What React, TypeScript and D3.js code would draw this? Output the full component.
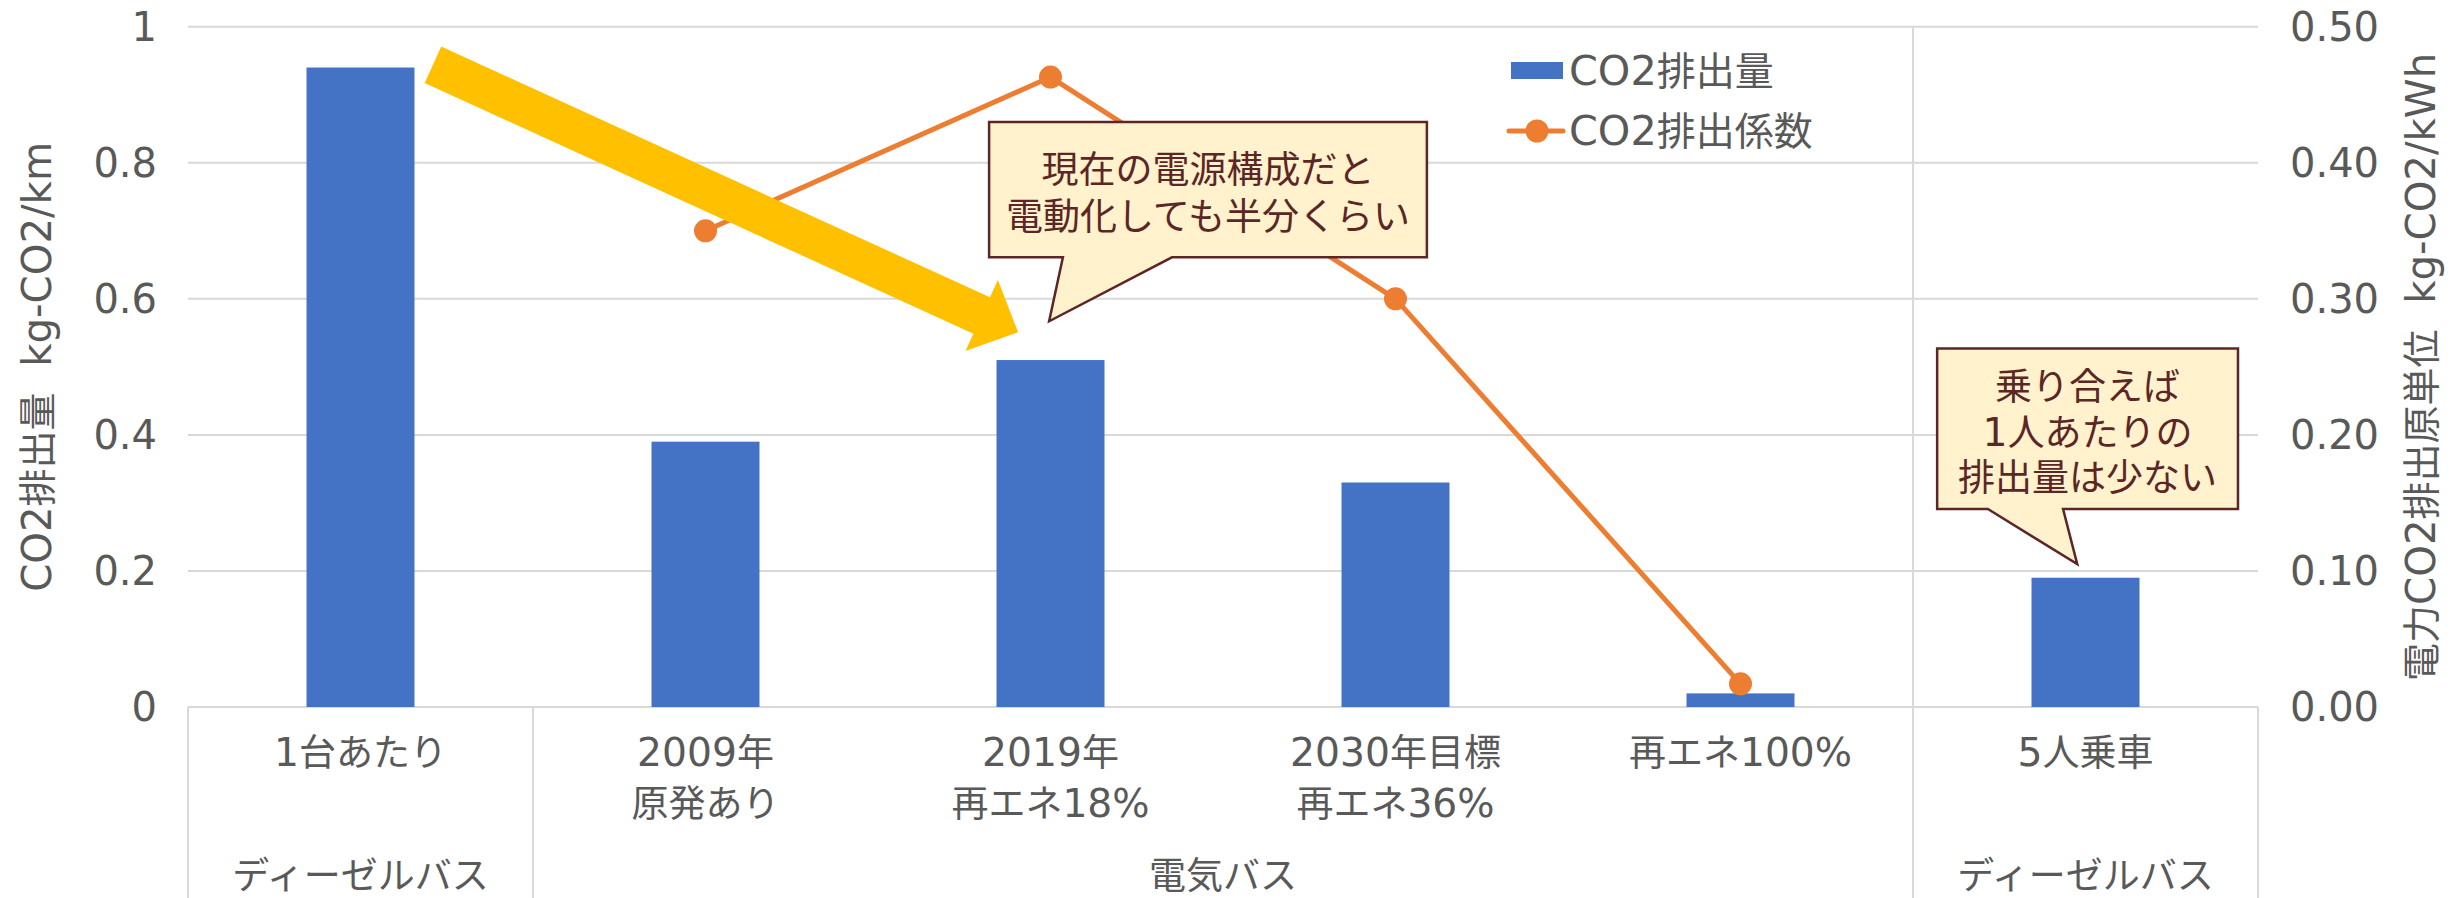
import * as d3 from "d3";

// categories (two-line labels) and groups
const catTop = ["1台あたり", "2009年", "2019年", "2030年目標", "再エネ100%", "5人乗車"];
const catSub = ["", "原発あり", "再エネ18%", "再エネ36%", "", ""];
const groupLabels = ["ディーゼルバス", "電気バス", "ディーゼルバス"];
const groupStart = [0, 1, 5];
const groupEnd = [1, 5, 6];

// series
const emissions = [0.94, 0.39, 0.51, 0.33, 0.02, 0.19]; // kg-CO2/km
const factors: (number | null)[] = [null, 0.35, 0.463, 0.3, 0.017, null]; // kg-CO2/kWh

const leftTicks = [0, 0.2, 0.4, 0.6, 0.8, 1];
const rightTicks = [0, 0.1, 0.2, 0.3, 0.4, 0.5];

const W = 2463;
const H = 898;
const LATIN = "'DejaVu Sans', sans-serif";
const CJK = "'Noto Sans CJK JP', sans-serif";
const GRAY = "#595959";
const GRID = "#d9d9d9";
const BLUE = "#4472C4";
const ORANGE = "#ED7D31";
const NOTE = "#5c2626";

// latin runs a bit larger than the kana/kanji, like the office font in the original
function mixed(s: string, size: number) {
  const parts = s.match(/[\x20-\x7E]+|[^\x20-\x7E]+/g) || [];
  return parts.map((p, k) =>
    /[\x20-\x7E]/.test(p[0]) ? (
      <tspan key={k} fontFamily={LATIN} fontSize={size * 1.06}>
        {p}
      </tspan>
    ) : (
      <tspan key={k} fontFamily={CJK} fontSize={size}>
        {p}
      </tspan>
    )
  );
}

export default function App() {
  const plot = { left: 188, right: 2258, top: 26.7, bottom: 707 };

  const x = d3
    .scaleBand<number>()
    .domain(d3.range(catTop.length))
    .range([plot.left, plot.right]);
  const yL = d3.scaleLinear().domain([0, 1]).range([plot.bottom, plot.top]);
  const yR = d3.scaleLinear().domain([0, 0.5]).range([plot.bottom, plot.top]);
  // fractional category index -> center x, for annotations
  const xi = (i: number) => x(0)! + x.bandwidth() * (i + 0.5);
  const barW = x.bandwidth() * 0.313;

  const linePts = factors
    .map((v, i) => ({ i, v }))
    .filter((d) => d.v !== null) as { i: number; v: number }[];
  const line = d3
    .line<{ i: number; v: number }>()
    .x((d) => xi(d.i))
    .y((d) => yR(d.v));

  // big yellow arrow
  const tail = [xi(0.21), yL(0.944)];
  const tip = [xi(1.906), yL(0.551)];
  const dx = tip[0] - tail[0];
  const dy = tip[1] - tail[1];
  const len = Math.hypot(dx, dy);
  const ux = dx / len;
  const uy = dy / len;
  const px = -uy;
  const py = ux;
  const headLen = 40;
  const bw = 20;
  const hw = 39;
  const nk = [tail[0] + ux * (len - headLen), tail[1] + uy * (len - headLen)];
  const arrowPts = [
    [tail[0] + px * bw, tail[1] + py * bw],
    [nk[0] + px * bw, nk[1] + py * bw],
    [nk[0] + px * hw, nk[1] + py * hw],
    tip,
    [nk[0] - px * hw, nk[1] - py * hw],
    [nk[0] - px * bw, nk[1] - py * bw],
    [tail[0] - px * bw, tail[1] - py * bw],
  ];

  const callout = (
    l: number,
    r: number,
    t: number,
    b: number,
    bl: number,
    br: number,
    ti: number,
    tv: number
  ) =>
    `M${xi(l)},${yL(t)}H${xi(r)}V${yL(b)}H${xi(br)}L${xi(ti)},${yL(tv)}L${xi(bl)},${yL(b)}H${xi(l)}Z`;

  const note1 = ["現在の電源構成だと", "電動化しても半分くらい"];
  const note2 = ["乗り合えば", "1人あたりの", "排出量は少ない"];

  return (
    <svg
      width={W}
      height={H}
      style={{ position: "absolute", left: 0, top: 0, display: "block", background: "#fff" }}
      fontFamily={CJK}
    >
      {/* gridlines */}
      {leftTicks.map((t) => (
        <line key={t} x1={plot.left} x2={plot.right} y1={yL(t)} y2={yL(t)} stroke={GRID} strokeWidth={2} />
      ))}
      {/* category box lines */}
      {[0, ...groupEnd].map((g) => {
        const xx = g === 0 ? plot.left : g === 6 ? plot.right : x(g)!;
        return <line key={g} x1={xx} x2={xx} y1={g === 5 ? plot.top : plot.bottom} y2={H} stroke={GRID} strokeWidth={2} />;
      })}
      {/* left tick labels */}
      {leftTicks.map((t) => (
        <text key={t} x={157} y={yL(t)} dy="0.36em" textAnchor="end" fontSize={40} fontFamily={LATIN} fill={GRAY}>
          {d3.format("~g")(t)}
        </text>
      ))}
      {/* right tick labels */}
      {rightTicks.map((t) => (
        <text key={t} x={2290} y={yR(t)} dy="0.36em" textAnchor="start" fontSize={40} fontFamily={LATIN} fill={GRAY}>
          {d3.format(".2f")(t)}
        </text>
      ))}
      {/* axis titles */}
      <text transform={`translate(37,${(plot.top + plot.bottom) / 2}) rotate(-90)`} textAnchor="middle" dy="0.36em" fontSize={38} fill={GRAY} xmlSpace="preserve">
        {mixed("CO2排出量  kg-CO2/km", 38)}
      </text>
      <text transform={`translate(2421,${(plot.top + plot.bottom) / 2}) rotate(-90)`} textAnchor="middle" dy="0.36em" fontSize={38} fill={GRAY} xmlSpace="preserve">
        {mixed("電力CO2排出原単位  kg-CO2/kWh", 38)}
      </text>
      {/* bars */}
      {emissions.map((v, i) => (
        <rect key={i} x={xi(i) - barW / 2} y={yL(v)} width={barW} height={yL(0) - yL(v)} fill={BLUE} />
      ))}
      {/* line series */}
      <path d={line(linePts) || ""} fill="none" stroke={ORANGE} strokeWidth={5} strokeLinejoin="round" />
      {linePts.map((d) => (
        <circle key={d.i} cx={xi(d.i)} cy={yR(d.v)} r={11.5} fill={ORANGE} />
      ))}
      {/* category labels */}
      {catTop.map((c, i) => (
        <g key={i}>
          <text x={xi(i)} y={753} dy="0.36em" textAnchor="middle" fontSize={37} fill={GRAY}>
            {mixed(c, 37)}
          </text>
          {catSub[i] && (
            <text x={xi(i)} y={804} dy="0.36em" textAnchor="middle" fontSize={37} fill={GRAY}>
              {mixed(catSub[i], 37)}
            </text>
          )}
        </g>
      ))}
      {groupLabels.map((g, k) => (
        <text key={k} x={(xi(groupStart[k]) + xi(groupEnd[k] - 1)) / 2} y={876} dy="0.36em" textAnchor="middle" fontSize={37} fill={GRAY}>
          {g}
        </text>
      ))}
      {/* legend */}
      <rect x={1511} y={62} width={52} height={17} fill={BLUE} />
      <text x={1569} y={71} dy="0.36em" fontSize={39} fill={GRAY}>
        {mixed("CO2排出量", 39)}
      </text>
      <line x1={1509} x2={1563} y1={131} y2={131} stroke={ORANGE} strokeWidth={5} strokeLinecap="round" />
      <circle cx={1537} cy={131} r={11.5} fill={ORANGE} />
      <text x={1569} y={131} dy="0.36em" fontSize={39} fill={GRAY}>
        {mixed("CO2排出係数", 39)}
      </text>
      {/* yellow arrow */}
      <polygon points={arrowPts.map((p) => p.join(",")).join(" ")} fill="#FFC000" />
      {/* callouts */}
      <path d={callout(1.822, 3.091, 0.86, 0.661, 2.036, 2.352, 1.996, 0.567)} fill="#FFF2CC" stroke={NOTE} strokeWidth={2.5} />
      {note1.map((s, k) => (
        <text key={k} x={(xi(1.822) + xi(3.091)) / 2} y={170 + k * 47} dy="0.36em" textAnchor="middle" fontSize={37} fill={NOTE}>
          {mixed(s, 37)}
        </text>
      ))}
      <path d={callout(4.57, 5.442, 0.527, 0.291, 4.717, 4.935, 4.976, 0.21)} fill="#FFF2CC" stroke={NOTE} strokeWidth={2.5} />
      {note2.map((s, k) => (
        <text key={k} x={(xi(4.57) + xi(5.442)) / 2} y={387 + k * 45.5} dy="0.36em" textAnchor="middle" fontSize={37} fill={NOTE}>
          {mixed(s, 37)}
        </text>
      ))}
    </svg>
  );
}
